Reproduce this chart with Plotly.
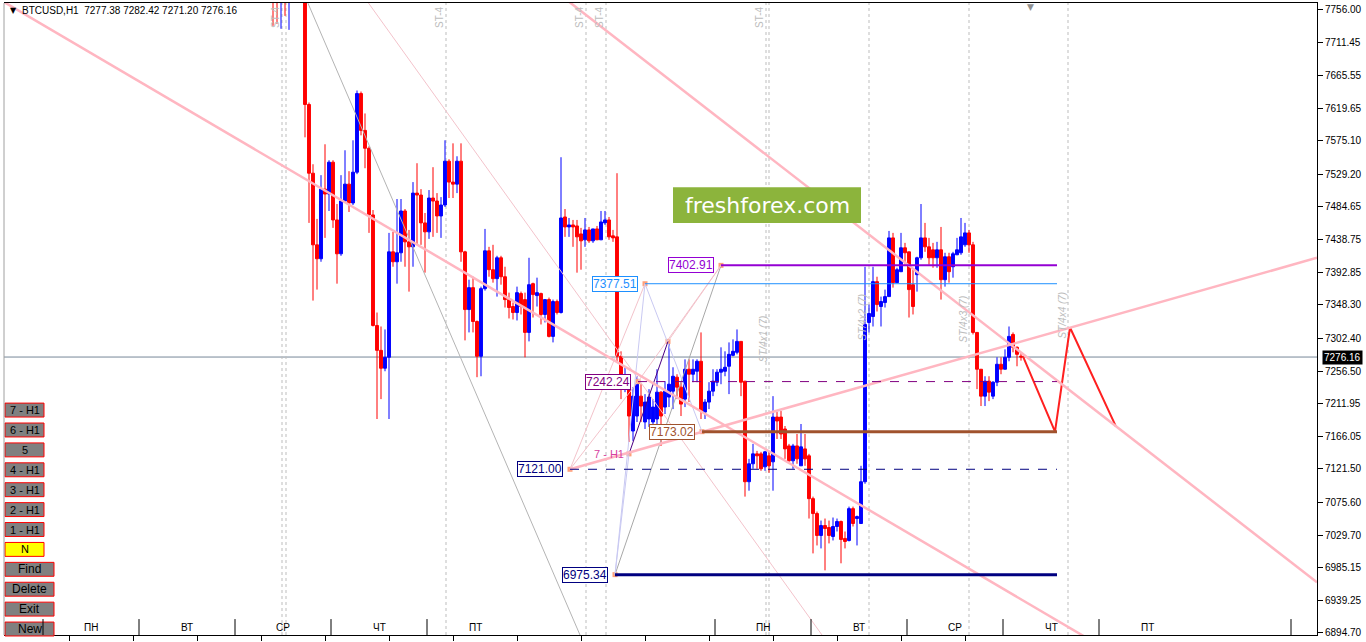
import plotly.graph_objects as go

# ---------------- data ----------------
symbol = "BTCUSD,H1"
bar_idx = list(range(-8, 180))

o = [7790, 7785, 7770, 7790, 7772, 7805, 7800, 7815,
     7796.0, 7625.3, 7530.3, 7431.3, 7412.0, 7508.3, 7501.5, 7545.5, 7465.7, 7418.9,
     7491.8, 7515.2, 7489.1, 7531.7, 7640.4, 7589.5, 7564.8, 7472.6, 7319.8, 7285.4,
     7260.7, 7275.8, 7421.6, 7407.9, 7420.3, 7478.1, 7435.4, 7428.5, 7502.8, 7500.1,
     7461.6, 7449.2, 7496.0, 7491.8, 7471.2, 7486.3, 7546.9, 7518.0, 7515.2, 7546.9,
     7421.6, 7341.8, 7372.1, 7325.3, 7277.2, 7370.7, 7423.0, 7396.9, 7384.5, 7413.4,
     7387.2, 7355.6, 7346.0, 7337.7, 7363.9, 7355.6, 7310.2, 7377.6, 7361.1, 7363.9,
     7335.0, 7355.6, 7304.7, 7352.9, 7337.7, 7469.8, 7456.0, 7458.8, 7457.4, 7446.4,
     7438.2, 7451.9, 7436.8, 7453.3, 7438.2, 7461.6, 7465.7, 7443.7, 7442.3, 7277.2,
     7234.5, 7248.3, 7173.9, 7194.6, 7222.1, 7186.4, 7190.5, 7186.4, 7190.5, 7227.6,
     7207.0, 7220.8, 7229.0, 7248.3, 7234.5, 7218.0, 7259.3, 7252.4, 7256.5, 7270.3,
     7200.1, 7213.9, 7229.0, 7241.4, 7255.2, 7256.5, 7263.4, 7278.5, 7282.7, 7297.8,
     7242.8, 7103.8, 7128.6, 7142.3, 7142.3, 7124.4, 7139.6, 7131.3, 7193.2, 7193.2,
     7176.7, 7153.3, 7132.7, 7153.3, 7125.8, 7149.2, 7139.6, 7080.4, 7059.8, 7029.5,
     7043.2, 7040.5, 7028.1, 7041.9, 7048.8, 7025.4, 7022.6, 7066.6, 7052.9, 7046.0,
     7103.8, 7324.0, 7332.2, 7380.4, 7346.0, 7351.5, 7359.7, 7440.9, 7379.0, 7394.1,
     7427.2, 7421.6, 7376.2, 7390.0, 7413.4, 7440.9, 7428.5, 7424.4, 7413.4, 7424.4,
     7383.1, 7414.8, 7401.0, 7417.5, 7420.3, 7431.3, 7447.8, 7431.3, 7310.2, 7259.3,
     7222.1, 7242.8, 7222.1, 7241.4, 7266.2, 7259.3, 7275.8, 7307.4, 7289.6, 7277.38]

h = [7800, 7795, 7790, 7800, 7820, 7830, 7825, 7830,
     7809.7, 7628.0, 7542.7, 7467.1, 7527.6, 7570.3, 7548.2, 7548.2, 7487.7, 7527.6,
     7562.0, 7533.1, 7575.8, 7644.6, 7643.2, 7612.9, 7567.5, 7479.4, 7337.7, 7318.4,
     7314.3, 7447.8, 7449.2, 7494.6, 7494.6, 7480.8, 7451.9, 7518.0, 7544.1, 7508.3,
     7475.3, 7507.0, 7538.6, 7502.8, 7497.3, 7575.8, 7549.6, 7571.6, 7553.7, 7571.6,
     7423.0, 7383.1, 7387.2, 7326.7, 7373.5, 7453.3, 7428.5, 7431.3, 7416.1, 7416.1,
     7401.0, 7365.2, 7351.5, 7373.5, 7366.6, 7365.2, 7413.4, 7379.0, 7385.9, 7365.2,
     7355.6, 7358.4, 7355.6, 7355.6, 7552.4, 7480.8, 7468.4, 7465.7, 7465.7, 7454.7,
     7468.4, 7456.0, 7453.3, 7457.4, 7478.1, 7478.1, 7469.8, 7451.9, 7530.3, 7284.1,
     7262.0, 7248.3, 7234.5, 7249.6, 7238.6, 7224.9, 7231.8, 7218.0, 7259.3, 7229.0,
     7242.8, 7300.6, 7262.0, 7252.4, 7241.4, 7273.0, 7273.0, 7273.0, 7273.0, 7310.2,
     7218.0, 7241.4, 7259.3, 7259.3, 7289.6, 7284.1, 7296.4, 7300.6, 7314.3, 7297.8,
     7242.8, 7135.4, 7156.1, 7146.4, 7145.1, 7146.4, 7145.1, 7222.1, 7200.1, 7201.5,
     7180.8, 7156.1, 7156.1, 7169.8, 7183.6, 7169.8, 7142.3, 7083.2, 7062.5, 7050.1,
     7052.9, 7050.1, 7054.3, 7052.9, 7050.1, 7035.0, 7069.4, 7069.4, 7057.0, 7125.8,
     7401.0, 7348.7, 7401.0, 7387.2, 7359.7, 7369.4, 7450.5, 7447.8, 7399.6, 7447.8,
     7434.0, 7421.6, 7396.9, 7414.8, 7487.7, 7461.6, 7440.9, 7434.0, 7435.4, 7456.0,
     7420.3, 7420.3, 7421.6, 7440.9, 7468.4, 7461.6, 7451.9, 7435.4, 7310.2, 7259.3,
     7249.6, 7249.6, 7242.8, 7275.8, 7275.8, 7286.8, 7318.4, 7310.2, 7290.9, 7282.42]

l = [7734.0, 7736.8, 7730.0, 7747.8, 7728.5, 7785, 7790, 7790,
     7579.9, 7461.6, 7354.2, 7369.4, 7407.9, 7440.9, 7478.1, 7454.7, 7377.6, 7416.1,
     7489.1, 7476.7, 7486.3, 7529.0, 7582.6, 7537.2, 7447.8, 7318.4, 7190.5, 7218.0,
     7256.5, 7190.5, 7401.0, 7377.6, 7407.9, 7401.0, 7366.6, 7401.0, 7431.3, 7431.3,
     7392.8, 7439.5, 7442.3, 7447.8, 7440.9, 7483.6, 7496.0, 7496.0, 7502.8, 7407.9,
     7299.2, 7310.2, 7310.2, 7248.3, 7249.6, 7368.0, 7387.2, 7379.0, 7359.7, 7376.2,
     7344.6, 7329.5, 7328.1, 7326.7, 7335.0, 7275.8, 7297.8, 7330.8, 7346.0, 7321.2,
     7324.0, 7303.3, 7296.4, 7335.0, 7336.3, 7442.3, 7442.3, 7428.5, 7392.8, 7396.9,
     7428.5, 7434.0, 7434.0, 7438.2, 7438.2, 7458.8, 7438.2, 7435.4, 7270.3, 7218.0,
     7227.6, 7158.8, 7160.2, 7186.4, 7186.4, 7176.7, 7179.5, 7176.7, 7183.6, 7153.3,
     7197.4, 7207.0, 7204.2, 7218.0, 7194.6, 7207.0, 7213.9, 7241.4, 7241.4, 7190.5,
     7190.5, 7204.2, 7222.1, 7235.9, 7238.6, 7249.6, 7224.9, 7277.2, 7279.9, 7222.1,
     7083.2, 7091.4, 7121.7, 7121.7, 7118.9, 7118.9, 7116.2, 7091.4, 7162.9, 7162.9,
     7135.4, 7131.3, 7121.7, 7128.6, 7125.8, 7125.8, 7052.9, 7004.7, 7015.7, 7011.6,
     6981.3, 7018.5, 7022.6, 7035.0, 6991.0, 7011.6, 7021.2, 7041.9, 7015.7, 7046.0,
     7101.0, 7310.2, 7318.4, 7339.1, 7318.4, 7344.6, 7359.7, 7372.1, 7379.0, 7394.1,
     7403.8, 7330.8, 7335.0, 7366.6, 7410.6, 7421.6, 7403.8, 7399.6, 7399.6, 7355.6,
     7373.5, 7379.0, 7385.9, 7417.5, 7417.5, 7428.5, 7420.3, 7307.4, 7231.8, 7208.4,
     7208.4, 7215.2, 7218.0, 7235.9, 7252.4, 7259.3, 7270.3, 7282.7, 7263.4, 7271.20]

c = [7772, 7770, 7785, 7775, 7805, 7800, 7815, 7796,
     7625.3, 7530.3, 7431.3, 7412.0, 7508.3, 7501.5, 7545.5, 7465.7, 7418.9, 7491.8,
     7515.2, 7489.1, 7531.7, 7640.4, 7589.5, 7564.8, 7472.6, 7319.8, 7285.4, 7260.7,
     7275.8, 7421.6, 7407.9, 7420.3, 7478.1, 7435.4, 7428.5, 7502.8, 7500.1, 7461.6,
     7449.2, 7496.0, 7491.8, 7471.2, 7486.3, 7546.9, 7518.0, 7515.2, 7546.9, 7421.6,
     7341.8, 7372.1, 7325.3, 7277.2, 7370.7, 7423.0, 7396.9, 7384.5, 7413.4, 7387.2,
     7355.6, 7344.6, 7337.7, 7365.2, 7346.0, 7310.2, 7376.2, 7362.5, 7365.2, 7335.0,
     7355.6, 7304.7, 7352.9, 7337.7, 7468.4, 7456.0, 7458.8, 7456.0, 7442.3, 7436.8,
     7451.9, 7436.8, 7453.3, 7438.2, 7462.9, 7465.7, 7442.3, 7440.9, 7277.2, 7249.6,
     7248.3, 7194.6, 7222.1, 7238.6, 7208.4, 7213.9, 7220.8, 7207.0, 7227.6, 7194.6,
     7229.0, 7238.6, 7249.6, 7234.5, 7211.1, 7259.3, 7252.4, 7259.3, 7270.3, 7201.5,
     7213.9, 7229.0, 7242.8, 7255.2, 7259.3, 7262.0, 7279.9, 7284.1, 7297.8, 7241.4,
     7103.8, 7128.6, 7142.3, 7139.6, 7121.7, 7145.1, 7125.8, 7193.2, 7187.7, 7169.8,
     7149.2, 7132.7, 7153.3, 7135.4, 7152.0, 7135.4, 7080.4, 7059.8, 7029.5, 7043.2,
     7039.1, 7029.5, 7041.9, 7048.8, 7024.0, 7021.2, 7066.6, 7046.0, 7055.6, 7103.8,
     7321.2, 7336.3, 7380.4, 7348.7, 7352.9, 7359.7, 7440.9, 7379.0, 7396.9, 7427.2,
     7420.3, 7369.4, 7346.0, 7413.4, 7440.9, 7428.5, 7413.4, 7413.4, 7424.4, 7383.1,
     7414.8, 7394.1, 7418.9, 7424.4, 7442.3, 7447.8, 7431.3, 7310.2, 7259.3, 7222.1,
     7242.8, 7227.6, 7241.4, 7266.2, 7259.3, 7275.8, 7304.7, 7289.6, 7279.9, 7276.16]

# price axis labels (as printed by the terminal)
y_tick_text = ["7756.00", "7711.45", "7665.55", "7619.65", "7575.10", "7529.20", "7484.65",
               "7438.75", "7392.85", "7348.30", "7302.40", "7256.50", "7211.95", "7166.05",
               "7121.50", "7075.60", "7029.70", "6985.15", "6939.25", "6894.70"]
y_tick_vals = [float(t) for t in y_tick_text]

# time-axis tick marks (bar index)
time_ticks = [-59, -43, -27, -11, 5, 21, 37, 53, 69, 85, 101, 117, 133, 149, 165]

# weekday row
day_names = ["ПН", "ВТ", "СР", "ЧТ", "ПТ", "ПН", "ВТ", "СР", "ЧТ", "ПТ"]
day_centers = [-53.5, -29.5, -5.5, 18.5, 42.5, 114.5, 138.5, 162.5, 186.5, 210.5]
day_separators = [-65.5, -41.5, -17.5, 6.5, 30.5, 102.5, 126.5, 150.5, 174.5, 198.5, 246.5]

# ST vertical dashed markers (bar index)
st_lines = [-5.75, -4.75, 35.25, 70.25, 75.25, 115.25, 116, 141, 166, 190.75]
st_top_at = [-5.75, 35.25, 70.25, 75.25, 115.25]
st_mid_at = [116, 141, 166, 190.75]
st_mid_text = ["ST/4x1 (7)", "ST/4x2 (7)", "ST/4x3 (7)", "ST/4x4 (7)"]
st_mid_price = [7300.6, 7330.8, 7328.1, 7333.6]

# trend lines: (x0, y0, x1, y1)
line_main_down = (-76.25, 7770.2, 200.0, 6873.1)
line_up = (66.25, 7121.0, 253.0, 7413.4)
line_upper_down = (65.75, 7768.4, 253.0, 6964.8)
line_thin_pink = (15.5, 7768.4, 129.25, 6891.9)
line_thin_gray = (0.5, 7768.4, 68.75, 6891.9)

# pattern points
pts = {"A": (66.25, 7121.00), "B": (85.0, 7377.51), "C": (77.5, 6975.34),
       "D": (104.0, 7402.91), "E": (81.0, 7142.3), "F": (90.75, 7297.8),
       "G": (99.25, 7173.02), "H": (83.25, 7242.24)}
pattern_segments = [("C", "D", "#A8A8A8"), ("C", "E", "#C9C9F2"), ("B", "C", "#C9C9F2"),
                    ("B", "G", "#C9C9F2"), ("E", "F", "#4B0082"), ("A", "B", "#F3C3CB"),
                    ("A", "H", "#F3C3CB"), ("H", "D", "#F3C3CB"), ("F", "D", "#F3C3CB")]

# horizontal levels
level_text = ["7402.91", "7377.51", "7242.24", "7173.02", "7121.00", "6975.34"]
level_from = ["D", "B", "H", "G", "A", "C"]
level_end = 188
level_color = ["#9400D3", "#1E90FF", "#800080", "#A0522D", "#000080", "#000080"]
level_width = [2, 1, 1, 3, 1, 3]
level_dash = ["solid", "solid", "dash", "solid", "dash", "solid"]

# projection zigzag
proj_x = [179.5, 187.5, 191.25, 202.75]
proj_y = [7277.0, 7173.0, 7317.0, 7180.0]

# ---------------- layout helpers ----------------
W, H = 1366, 642
PL, PR, PT, PB = 4, 1317, 2, 637
XR = [-75.25, 253.0]
YR = [6891.9, 7765.6]


def px(x):
    return (x - PL) / (PR - PL)


def py(y):
    return (PB - y) / (PB - PT)


fig = go.Figure()
fig.add_trace(go.Candlestick(
    x=bar_idx, open=o, high=h, low=l, close=c,
    increasing=dict(line=dict(color="#0000FF", width=1), fillcolor="#0000FF"),
    decreasing=dict(line=dict(color="#FF0000", width=1), fillcolor="#FF0000"),
    hoverinfo="skip", showlegend=False))

shapes = []
annos = []


def seg(x0, y0, x1, y1, color, width=1, dash="solid", layer="above", xref="x", yref="y"):
    shapes.append(dict(type="line", x0=x0, y0=y0, x1=x1, y1=y1, xref=xref, yref=yref,
                       line=dict(color=color, width=width, dash=dash), layer=layer))


def note(x, y, text, size=10, color="black", xref="paper", yref="paper", xanchor="center",
         yanchor="middle", family="Liberation Sans", **kw):
    d = dict(x=x, y=y, xref=xref, yref=yref, xanchor=xanchor, yanchor=yanchor, text=text,
             showarrow=False, font=dict(family=family, size=size, color=color))
    d.update(kw)
    annos.append(d)


# current price line
seg(0, c[-1], 1, c[-1], "#778899", 1, layer="below", xref="paper")

# dashed ST markers
for xv in st_lines:
    seg(xv, 0, xv, 1, "#BDBDBD", 1, "3px,3px", layer="below", yref="paper")

# trend lines
seg(*line_thin_gray, "#B4B4B4", 1)
seg(*line_thin_pink, "#F3C3CB", 1)
for k1, k2, col in pattern_segments:
    seg(pts[k1][0], pts[k1][1], pts[k2][0], pts[k2][1], col, 1)
seg(*line_main_down, "#FFB6C1", 2.5)
seg(*line_up, "#FFB6C1", 2.5)
seg(*line_upper_down, "#FFB6C1", 2.5)

# levels
for txt, k, col, wd, ds in zip(level_text, level_from, level_color, level_width, level_dash):
    x0 = pts[k][0]
    yv = float(txt)
    seg(x0, yv, level_end, yv, col, wd, ds)
    note(x0, yv, txt, size=12, color=col, xref="x", yref="y", xanchor="right",
         xshift=-7, bgcolor="white", bordercolor=col, borderwidth=1, borderpad=0)

# projection
fig.add_trace(go.Scatter(x=proj_x, y=proj_y, mode="lines",
                         line=dict(color="#FF2020", width=2), hoverinfo="skip", showlegend=False))
# pattern anchor points
fig.add_trace(go.Scatter(x=[p[0] for p in pts.values()], y=[p[1] for p in pts.values()],
                         mode="markers", marker=dict(symbol="square", size=5, color="#FFA07A"),
                         hoverinfo="skip", showlegend=False))

note(pts["E"][0], pts["E"][1], "7 - H1", size=11, color="#D63FA0", xref="x", yref="y",
     xanchor="right", xshift=-3)

# ST labels
for xv in st_top_at:
    note(xv, py(16), "ST-4", size=10, color="#BDBDBD", xref="x", xshift=-6, textangle=-90)
for xv, t, yv in zip(st_mid_at, st_mid_text, st_mid_price):
    note(xv, yv, "<i>" + t + "</i>", size=10, color="#BDBDBD", xref="x", yref="y",
         xshift=-6, textangle=-90)

# watermark
shapes.append(dict(type="rect", xref="paper", yref="paper", x0=px(673), x1=px(861),
                   y0=py(223), y1=py(187), fillcolor="#8CB43C", line=dict(width=0), layer="above"))
note(px(767), py(205), "freshforex.com", size=22, color="white", family="DejaVu Sans")

# buttons
buttons = [("7 - H1", 404, 44, "#808080"), ("6 - H1", 424, 44, "#808080"),
           ("5", 444, 44, "#808080"), ("4 - H1", 464, 44, "#808080"),
           ("3 - H1", 484, 44, "#808080"), ("2 - H1", 504, 44, "#808080"),
           ("1 - H1", 524, 44, "#808080"), ("N", 544, 44, "#FFFF00"),
           ("Find", 564, 54, "#808080"), ("Delete", 584, 54, "#808080"),
           ("Exit", 604, 54, "#808080"), ("New", 624, 54, "#808080")]
for txt, top, right, fill in buttons:
    shapes.append(dict(type="rect", xref="paper", yref="paper", x0=px(5), x1=px(right),
                       y0=py(top + 14), y1=py(top), fillcolor=fill,
                       line=dict(color="#FF0000", width=1), layer="above"))
    note(px((5 + right) / 2), py(top + 7), txt, size=12 if right > 50 else 11)

# weekday row
for xv in day_separators:
    seg(xv, py(637), xv, py(621), "black", 1, yref="paper")
for xv, t in zip(day_centers, day_names):
    note(xv, py(629), t, size=10, xref="x")

# left border
seg(px(4), 0, px(4), 1, "#A0A0A0", 1, xref="paper", yref="paper")

# header
note(px(8), py(10), "▼", size=8, xanchor="left", family="DejaVu Sans")
note(px(20), py(10), f"{symbol}  {o[-1]:.2f} {h[-1]:.2f} {l[-1]:.2f} {c[-1]:.2f}",
     size=10, xanchor="left")
note(px(1030), py(6), "▼", size=9, color="#909090", family="DejaVu Sans")

# current price tag
note(px(1322), c[-1], f"{c[-1]:.2f}", size=10, color="white", yref="y", xanchor="left",
     bgcolor="black", borderpad=1)

fig.update_layout(
    width=W, height=H, margin=dict(l=PL, r=W - PR, t=PT, b=H - PB),
    paper_bgcolor="white", plot_bgcolor="white", showlegend=False,
    shapes=shapes, annotations=annos, hovermode=False,
    boxgap=0.15, boxgroupgap=0.15,
    xaxis=dict(range=XR, showgrid=False, zeroline=False, showticklabels=False,
               ticks="outside", ticklen=5, tickcolor="black", tickvals=time_ticks,
               showline=True, linecolor="black", linewidth=1, mirror=True,
               rangeslider=dict(visible=False), fixedrange=True),
    yaxis=dict(range=YR, side="right", showgrid=False, zeroline=False,
               tickvals=y_tick_vals, ticktext=y_tick_text, ticks="outside", ticklen=5,
               tickcolor="black", showline=True, linecolor="black", linewidth=1,
               tickfont=dict(family="Liberation Sans", size=10, color="black"), fixedrange=True),
)

fig.write_html("out.html", config={"displayModeBar": False},
               post_script="document.body.style.margin='0';document.body.style.padding='0';")
